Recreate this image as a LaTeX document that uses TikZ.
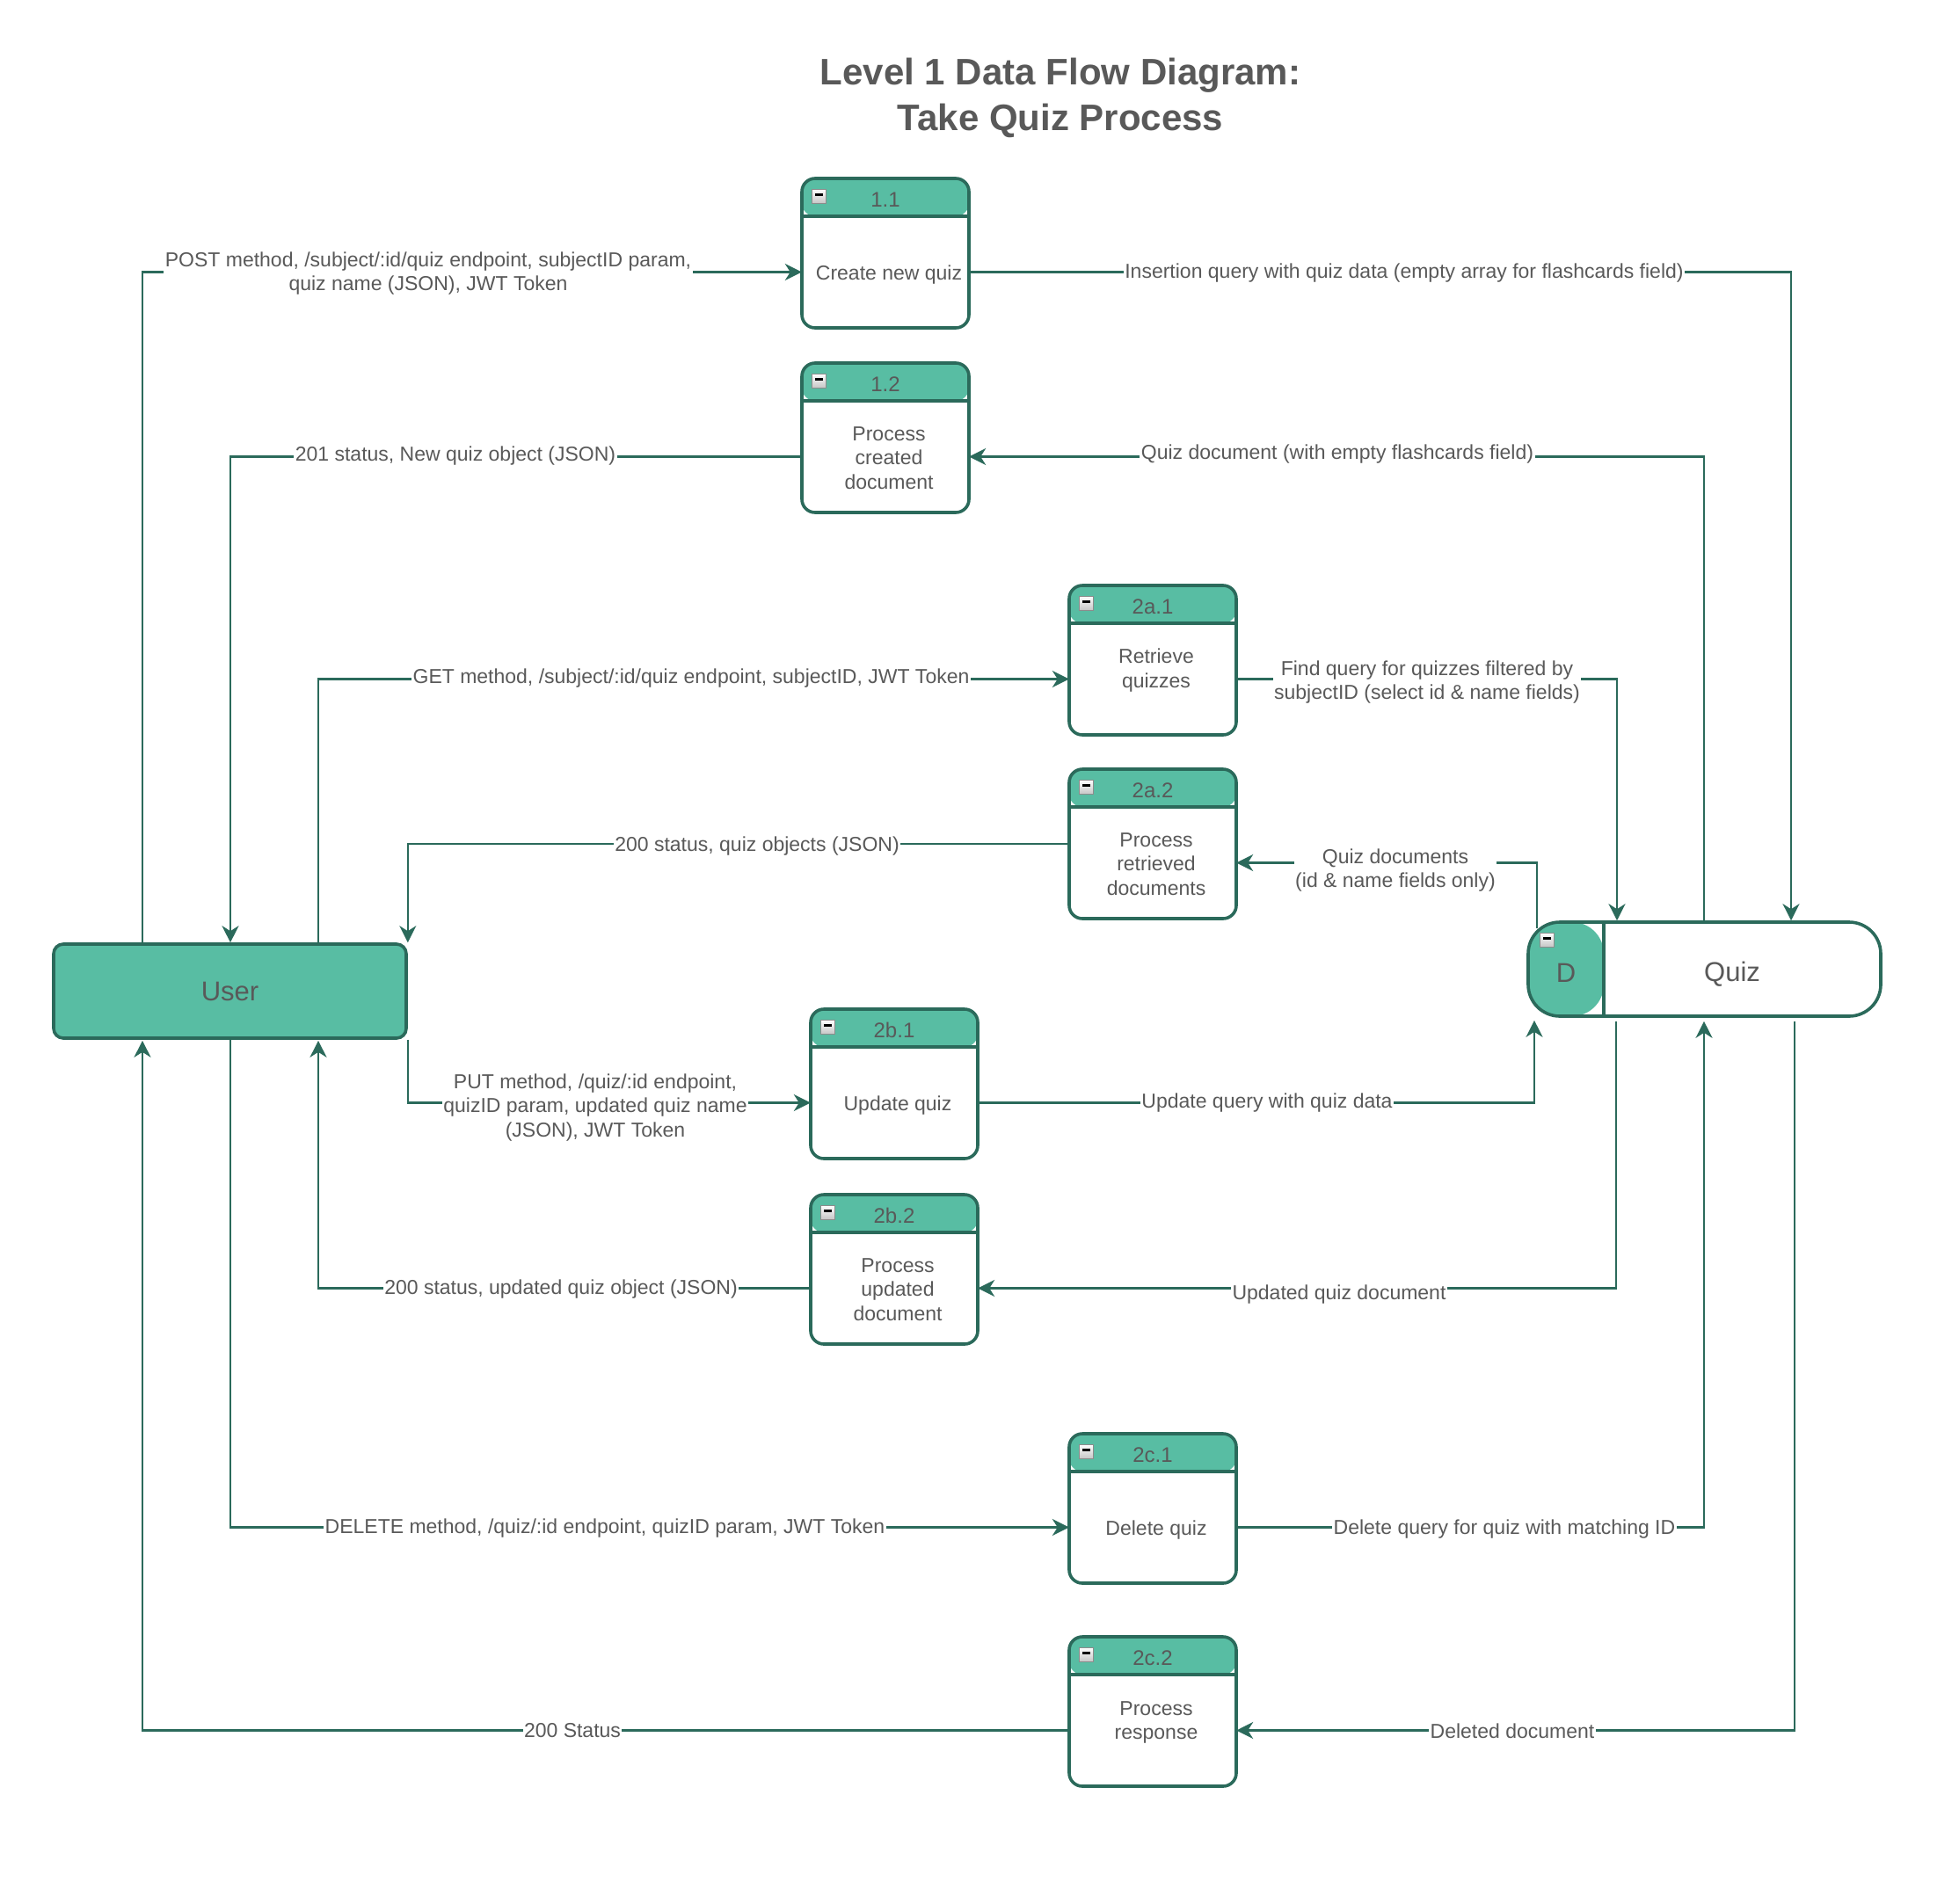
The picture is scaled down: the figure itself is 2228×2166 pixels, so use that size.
\documentclass[tikz,border=0pt]{standalone}
\usepackage{fontspec}
\setmainfont{Liberation Sans}
\usetikzlibrary{arrows.meta,calc}
\definecolor{fillc}{HTML}{58BDA3}
\definecolor{linec}{HTML}{2B6A5B}
\definecolor{txtc}{HTML}{595959}
\definecolor{icong}{HTML}{8C8C8C}
\newcommand{\lblfont}{\fontsize{23}{27.6}\selectfont}
% #1 name, #2 left x, #3 top y, #4 number, #5 text, #6 vertical text shift
\newcommand{\ProcBox}[6]{%
  \node[procbox] (p#1) at ({#2+95},{#3+85}) {};
  \node[hdrtext] (h#1) at ([yshift=-26pt]p#1.north) {#4};
  \node[bodytext] (b#1) at ([yshift=-21.5pt]p#1.center) {};
  \node[bodylbl] (t#1) at ([xshift=4pt,yshift=#6]b#1.center) {#5};
  \node[minusicon] (m#1) at ({#2+19},{#3+20}) {};
}
\begin{document}
\begin{tikzpicture}[x=1pt,y=-1pt,
  flow/.style={draw=linec, line width=2.2pt, -{Stealth[length=19pt,width=19pt,inset=6pt]}},
  procbox/.style={draw=linec, line width=3.6pt, rounded corners=15pt, fill=white,
    minimum width=190pt, minimum height=170pt, inner sep=0pt,
    path picture={
      \fill[fillc] (path picture bounding box.north west) rectangle ([yshift=-43pt]path picture bounding box.north east);
      \draw[linec, line width=3.6pt] ([yshift=-43pt]path picture bounding box.north west) -- ([yshift=-43pt]path picture bounding box.north east);
    }},
  hdrtext/.style={text=txtc, font=\fontsize{24}{28}\selectfont, inner sep=0pt},
  bodytext/.style={minimum width=190pt, minimum height=127pt, inner sep=0pt},
  bodylbl/.style={text=txtc, font=\lblfont, align=center, inner sep=0pt},
  lbl/.style={text=txtc, font=\lblfont, align=center, fill=white, inner sep=1.5pt},
  minusicon/.style={draw=icong, line width=1pt, minimum size=16pt, inner sep=0pt,
    top color=white, bottom color=black!22,
    path picture={\fill[black] ([xshift=-4.5pt,yshift=0pt]path picture bounding box.center) rectangle ([xshift=4.5pt,yshift=2.6pt]path picture bounding box.center);}},
  userbox/.style={draw=linec, line width=3.6pt, rounded corners=11pt, fill=fillc,
    minimum width=401pt, minimum height=107pt, inner sep=0pt, text=txtc, font=\fontsize{31}{36}\selectfont},
  storebox/.style={draw=linec, line width=3.6pt, rounded corners=36pt, fill=white,
    minimum width=401pt, minimum height=107pt, inner sep=0pt,
    path picture={
      \fill[fillc] (path picture bounding box.north west) rectangle ([xshift=86pt]path picture bounding box.south west);
      \draw[linec, line width=3.6pt] ([xshift=86pt]path picture bounding box.north west) -- ([xshift=86pt]path picture bounding box.south west);
    }},
  storetext/.style={text=txtc, font=\fontsize{31}{36}\selectfont, inner sep=0pt},
  titletext/.style={text=txtc, font=\bfseries\fontsize{42}{52}\selectfont, align=center, inner sep=0pt}
]
\useasboundingbox (0,0) rectangle (2228,2166);
\fill[white] (0,0) rectangle (2228,2166);

\node[titletext] (title) at (1206,111) {Level 1 Data Flow Diagram:\\Take Quiz Process};

% external entity and data store
\node[userbox] (u) at (261.5,1127.5) {User};
\node[storebox] (st) at (1938.5,1102.5) {};
\node[storetext] (sD) at (1781,1107) {D};
\node[storetext] (sQ) at (1970,1108) {Quiz};
\node[minusicon] (sm) at (1759,1069) {};

% processes
\ProcBox{11}{912}{203}{1.1}{Create new quiz}{-3pt}
\ProcBox{12}{912}{413}{1.2}{Process\\created\\document}{-1.5pt}
\ProcBox{2a1}{1216}{666}{2a.1}{Retrieve\\quizzes}{10pt}
\ProcBox{2a2}{1216}{875}{2a.2}{Process\\retrieved\\documents}{-1.5pt}
\ProcBox{2b1}{922}{1148}{2b.1}{Update quiz}{-3pt}
\ProcBox{2b2}{922}{1359}{2b.2}{Process\\updated\\document}{-1.5pt}
\ProcBox{2c1}{1216}{1631}{2c.1}{Delete quiz}{-3pt}
\ProcBox{2c2}{1216}{1862}{2c.2}{Process\\response}{9pt}

% flows
\draw[flow] ([xshift=-99.5pt]u.north) |- (b11.west);
\draw[flow] (b11.east) -| ([xshift=98.5pt]st.north);
\draw[flow] ([xshift=-0.5pt]st.north) |- (b12.east);
\draw[flow] (b12.west) -| ([xshift=0.5pt]u.north);
\draw[flow] ([xshift=100.5pt]u.north) |- (b2a1.west);
\draw[flow] (b2a1.east) -| ([xshift=-99.5pt]st.north);
\draw[flow] ([xshift=-190.5pt,yshift=-9pt]st.north) |- (b2a2.east);
\draw[flow] (p2a2.west) -| (u.north east);
\draw[flow] (u.south east) |- (b2b1.west);
\draw[flow] (b2b1.east) -| ([xshift=-193.5pt,yshift=-3pt]st.south);
\draw[flow] ([xshift=-100.5pt,yshift=-4pt]st.south) |- (b2b2.east);
\draw[flow] (b2b2.west) -| ([xshift=100.5pt,yshift=-1pt]u.south);
\draw[flow] ([xshift=0.5pt]u.south) |- (b2c1.west);
\draw[flow] (b2c1.east) -| ([xshift=-0.5pt,yshift=-4pt]st.south);
\draw[flow] ([xshift=102.5pt,yshift=-4pt]st.south) |- (b2c2.east);
\draw[flow] (b2c2.west) -| ([xshift=-99.5pt,yshift=-1pt]u.south);

% flow labels
\node[lbl] (l1) at (487,311) {POST method, /subject/:id/quiz endpoint, subjectID param,\\quiz name (JSON), JWT Token};
\node[lbl] (l2) at (1597,311) {Insertion query with quiz data (empty array for flashcards field)};
\node[lbl] (l3) at (1521,517) {Quiz document (with empty flashcards field)};
\node[lbl] (l4) at (518,519) {201 status, New quiz object (JSON)};
\node[lbl] (l5) at (786,772) {GET method, /subject/:id/quiz endpoint, subjectID, JWT Token};
\node[lbl] (l6) at (1623,776) {Find query for quizzes filtered by\\subjectID (select id \& name fields)};
\node[lbl] (l7) at (1587,990) {Quiz documents\\(id \& name fields only)};
\node[lbl] (l8) at (861,963) {200 status, quiz objects (JSON)};
\node[lbl] (l9) at (677,1260) {PUT method, /quiz/:id endpoint,\\quizID param, updated quiz name\\(JSON), JWT Token};
\node[lbl] (l10) at (1441,1255) {Update query with quiz data};
\node[lbl] (l11) at (1523,1473) {Updated quiz document};
\node[lbl] (l12) at (638,1467) {200 status, updated quiz object (JSON)};
\node[lbl] (l13) at (688,1739) {DELETE method, /quiz/:id endpoint, quizID param, JWT Token};
\node[lbl] (l14) at (1711,1740) {Delete query for quiz with matching ID};
\node[lbl] (l15) at (1720,1969) {Deleted document};
\node[lbl] (l16) at (651,1969) {200 Status};
\end{tikzpicture}
\end{document}
